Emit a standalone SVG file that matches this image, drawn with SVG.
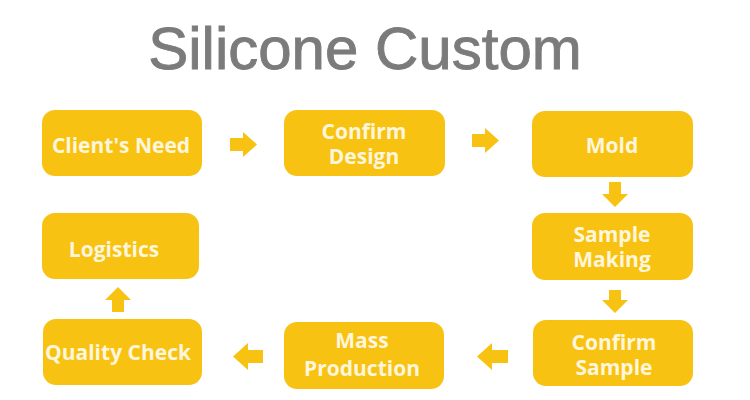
<svg xmlns="http://www.w3.org/2000/svg" width="750" height="400" viewBox="0 0 750 400">
<style>
.box{fill:#F8C212;}
.lbl{font-family:"Open Sans","Noto Sans","DejaVu Sans",sans-serif;font-weight:bold;font-size:21px;fill:#FFF6DC;text-anchor:middle;}
.arr{fill:#F8C212;}
.title{font-family:"Liberation Sans",Arial,sans-serif;font-size:60px;fill:#7B7B7B;stroke:#7B7B7B;stroke-width:0.9;text-anchor:middle;}
</style>
<rect width="750" height="400" fill="#FFFFFF"/>
<text class="title" x="365" y="69">Silicone Custom</text>
<g id="n1"><rect class="box" x="42" y="110" width="160" height="66" rx="13"/><text class="lbl" x="121" y="153">Client's Need</text></g>
<g id="n2"><rect class="box" x="284" y="110" width="161" height="66" rx="13"/><text class="lbl" x="364" y="139">Confirm</text><text class="lbl" x="364" y="164">Design</text></g>
<g id="n3"><rect class="box" x="532" y="111" width="161" height="66" rx="13"/><text class="lbl" x="612" y="153">Mold</text></g>
<g id="n4"><rect class="box" x="532" y="213" width="161" height="67" rx="13"/><text class="lbl" x="612" y="242">Sample</text><text class="lbl" x="612" y="267">Making</text></g>
<g id="n5"><rect class="box" x="533" y="320" width="160" height="66" rx="13"/><text class="lbl" x="614" y="350">Confirm</text><text class="lbl" x="614" y="375">Sample</text></g>
<g id="n6"><rect class="box" x="284" y="322" width="160" height="67" rx="13"/><text class="lbl" x="362" y="348">Mass</text><text class="lbl" x="362" y="376">Production</text></g>
<g id="n7"><rect class="box" x="43" y="319" width="159" height="66" rx="13"/><text class="lbl" x="118" y="360">Quality Check</text></g>
<g id="n8"><rect class="box" x="42" y="213" width="157" height="66" rx="13"/><text class="lbl" x="114" y="257">Logistics</text></g>
<g id="connectors">
<polygon class="arr" points="230,138 243,138 243,132 257,144.5 243,157 243,151 230,151"/>
<polygon class="arr" points="472,134 485,134 485,128 499,140.5 485,153 485,147 472,147"/>
<polygon class="arr" points="609,182 621,182 621,194 628,194 615,207 602,194 609,194"/>
<polygon class="arr" points="609,290 621,290 621,300 628,300 615,313 602,300 609,300"/>
<polygon class="arr" points="508,350 492,350 492,343 477,356.5 492,370 492,363 508,363"/>
<polygon class="arr" points="263,350 248,350 248,343 233,356.5 248,370 248,363 263,363"/>
<polygon class="arr" points="112,312 124,312 124,300 131,300 118,287 105,300 112,300"/>
</g>
</svg>
